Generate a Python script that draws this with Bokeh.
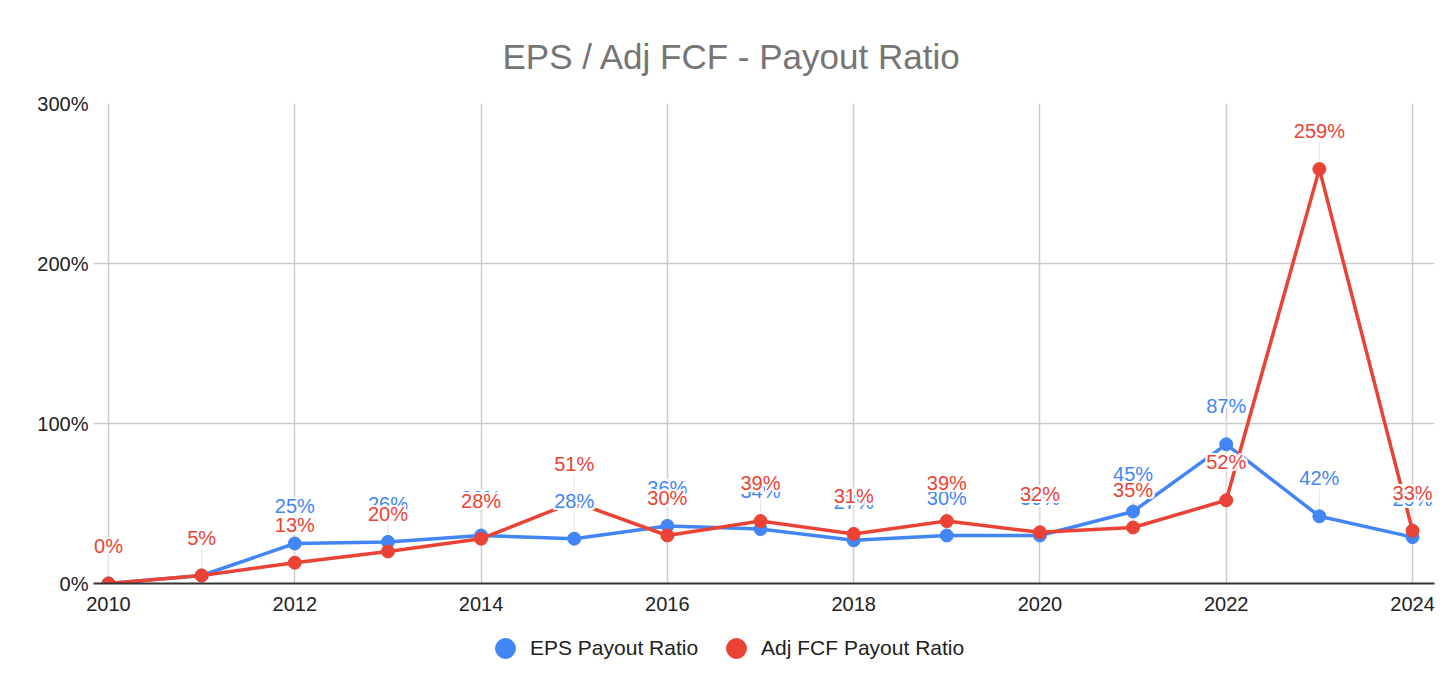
from bokeh.plotting import figure
from bokeh.layouts import column
from bokeh.models import (ColumnDataSource, Range1d, FixedTicker, PrintfTickFormatter,
                          Legend, LegendItem)
from bokeh.core.properties import value
from bokeh.embed import file_html
from bokeh.resources import INLINE

years = [2010, 2011, 2012, 2013, 2014, 2015, 2016, 2017, 2018, 2019, 2020, 2021, 2022, 2023, 2024]
eps_payout = [0, 5, 25, 26, 30, 28, 36, 34, 27, 30, 30, 45, 87, 42, 29]
fcf_payout = [0, 5, 13, 20, 28, 51, 30, 39, 31, 39, 32, 35, 52, 259, 33]
x_ticks = [2010, 2012, 2014, 2016, 2018, 2020, 2022, 2024]
y_ticks = [0, 100, 200, 300]
series_names = ["EPS Payout Ratio", "Adj FCF Payout Ratio"]

BLUE = "#4285F4"
RED = "#EA4335"
FONT = "Liberation Sans"

W, H = 1440, 630
B_L, B_R, B_T, B_B = 93, 6, 103, 47
p = figure(width=W, height=H, output_backend="svg", toolbar_location=None,
           x_range=Range1d(2009.839, 2024.236), y_range=Range1d(0, 300),
           min_border_left=B_L, min_border_right=B_R, min_border_top=B_T, min_border_bottom=B_B)

p.title.text = "EPS / Adj FCF - Payout Ratio"
p.title.align = "left"
p.title.text_font = FONT
p.title.text_font_size = "35px"
p.title.text_font_style = "normal"
p.title.text_color = "#757575"
p.title.offset = 409
p.title.standoff = 56

p.outline_line_color = None
p.background_fill_color = "white"
p.border_fill_color = "white"

p.xaxis.ticker = FixedTicker(ticks=x_ticks)
p.yaxis.ticker = FixedTicker(ticks=y_ticks)
p.yaxis.formatter = PrintfTickFormatter(format="%d%%")
for ax in (p.xaxis, p.yaxis):
    ax.major_label_text_font = FONT
    ax.major_label_text_font_size = "20px"
    ax.major_label_text_color = "#222222"
    ax.major_tick_line_color = None
    ax.minor_tick_line_color = None
    ax.major_tick_out = 0
    ax.major_tick_in = 0
p.yaxis.axis_line_color = None
p.xaxis.axis_line_color = "#333333"
p.xaxis.axis_line_width = 2
p.xaxis.major_label_standoff = 13
p.yaxis.major_label_standoff = 5

p.xgrid.ticker = FixedTicker(ticks=x_ticks)
p.ygrid.ticker = FixedTicker(ticks=[100, 200, 300])
p.xgrid.grid_line_color = "#cccccc"
p.ygrid.grid_line_color = "#cccccc"
p.xgrid.grid_line_width = 1.5
p.ygrid.grid_line_width = 1.5

px_per_unit = (H - B_T - B_B) / 300.0
lead0 = 7 / px_per_unit
lead1 = 27 / px_per_unit

src_eps = ColumnDataSource(dict(x=years, y=eps_payout, lbl=[f"{v}%" for v in eps_payout],
                                y0=[v + lead0 for v in eps_payout], y1=[v + lead1 for v in eps_payout]))
src_fcf = ColumnDataSource(dict(x=years, y=fcf_payout, lbl=[f"{v}%" for v in fcf_payout],
                                y0=[v + lead0 for v in fcf_payout], y1=[v + lead1 for v in fcf_payout]))

for src in (src_eps, src_fcf):
    p.segment(x0="x", y0="y0", x1="x", y1="y1", source=src, line_color="#e6e6e6", line_width=1)

p.line("x", "y", source=src_eps, line_color=BLUE, line_width=3.5)
p.scatter("x", "y", source=src_eps, size=13, fill_color=BLUE, line_color=BLUE)
p.line("x", "y", source=src_fcf, line_color=RED, line_width=3.5)
p.scatter("x", "y", source=src_fcf, size=13, fill_color=RED, line_color=RED)

halo = [(-2, 0), (2, 0), (0, -2), (0, 2), (-2, -2), (2, 2), (-2, 2), (2, -2)]
for src, col in ((src_eps, BLUE), (src_fcf, RED)):
    for dx, dy in halo:
        p.text("x", "y", text="lbl", source=src, x_offset=dx, y_offset=-38 + dy,
               text_align="center", text_baseline="middle", text_font=value(FONT),
               text_font_size="20px", text_color="white")
    p.text("x", "y", text="lbl", source=src, x_offset=0, y_offset=-38,
           text_align="center", text_baseline="middle", text_font=value(FONT),
           text_font_size="20px", text_color=col)

# legend strip below the chart
LH = 64
lg = figure(width=W, height=LH, output_backend="svg", toolbar_location=None,
            x_range=Range1d(0, 1), y_range=Range1d(0, 1),
            min_border_left=0, min_border_right=0, min_border_top=0, min_border_bottom=0)
lg.axis.visible = False
lg.grid.visible = False
lg.outline_line_color = None
lg.border_fill_color = "white"
nan = float("nan")
leg_src = ColumnDataSource(dict(x=[nan], y=[nan]))
r_leg_b = lg.scatter("x", "y", source=leg_src, size=20, fill_color=BLUE, line_color=BLUE)
r_leg_r = lg.scatter("x", "y", source=leg_src, size=20, fill_color=RED, line_color=RED)

legend = Legend(items=[LegendItem(label=series_names[0], renderers=[r_leg_b]),
                       LegendItem(label=series_names[1], renderers=[r_leg_r])],
                orientation="horizontal", location=(387, 21),
                label_text_font=FONT, label_text_font_size="21px", label_text_color="#222222",
                glyph_width=50, glyph_height=50, spacing=13, label_standoff=0,
                border_line_color=None, background_fill_alpha=0, margin=0, padding=0)
lg.add_layout(legend, "center")

layout = column(p, lg, spacing=0)
open("out.html", "w").write(file_html(layout, INLINE))
